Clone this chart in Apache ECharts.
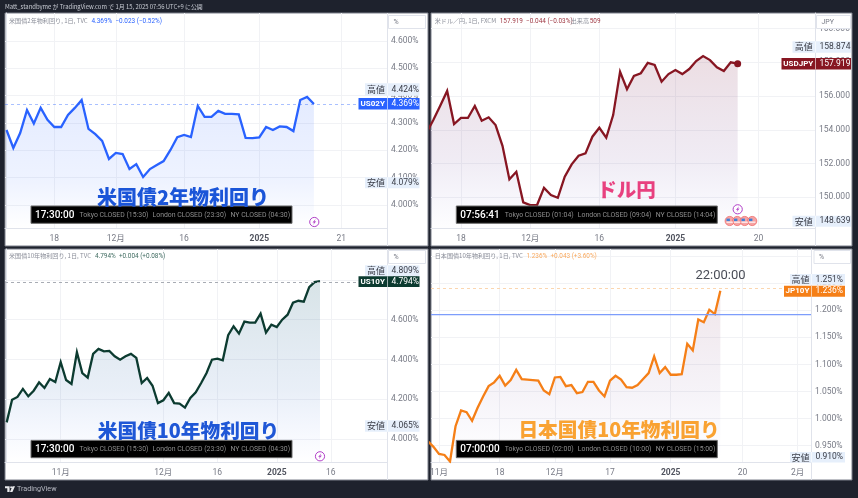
<!DOCTYPE html>
<html>
<head>
<meta charset="utf-8">
<style>html,body{margin:0;padding:0;background:#1e222d}#chart{width:858px;height:498px}</style>
<script src="https://cdn.jsdelivr.net/npm/echarts@6/dist/echarts.min.js"></script>
</head>
<body>
<div id="chart"></div>
<script>
// 米国債2年物
const us2yValues = [4.274,4.208,4.263,4.347,4.298,4.355,4.311,4.285,4.285,4.329,4.355,4.384,4.278,4.259,4.234,4.168,4.190,4.186,4.131,4.149,4.102,4.131,4.146,4.160,4.201,4.248,4.256,4.248,4.362,4.322,4.322,4.344,4.333,4.333,4.331,4.245,4.244,4.247,4.285,4.274,4.287,4.285,4.270,4.384,4.395,4.369];
const us2yPriceTicks = [4.0,4.1,4.2,4.3,4.4,4.5,4.6];
const us2yTimeTicks = [7,16,26,37,49];
const us2yTimeLabels = ['18','12月','16','2025','21'];

// 米ドル/円
const usdJpyValues = [153.81,154.58,155.42,156.30,154.34,154.70,154.70,155.41,154.54,154.74,154.28,153.05,151.06,151.51,149.70,149.54,149.54,150.56,150.13,149.97,151.22,151.95,152.46,152.60,153.59,154.12,153.53,154.87,157.44,156.40,157.19,157.35,157.97,157.84,156.85,157.30,157.54,157.30,157.60,158.07,158.37,158.13,157.70,157.48,158.00,157.919];
const usdJpyPriceTicks = [150,152,154,156,158,160];
const usdJpyTimeTicks = [5,15,25,36,48];
const usdJpyTimeLabels = ['18','12月','16','2025','20'];

// 米国債10年物
const us10yValues = [4.084,4.198,4.212,4.252,4.215,4.243,4.285,4.257,4.302,4.287,4.387,4.297,4.277,4.436,4.332,4.309,4.428,4.453,4.441,4.443,4.416,4.399,4.416,4.428,4.408,4.282,4.307,4.268,4.181,4.195,4.232,4.181,4.178,4.158,4.207,4.235,4.282,4.332,4.399,4.404,4.396,4.522,4.567,4.530,4.590,4.585,4.585,4.630,4.535,4.575,4.563,4.600,4.625,4.685,4.695,4.690,4.763,4.789,4.794];
const us10yPriceTicks = [4.0,4.2,4.4,4.6,4.8];
const us10yTimeTicks = [10,29,39,50,60];
const us10yTimeLabels = ['11月','12月','16','2025','16'];

// 日本国債10年物
const jp10yValues = [0.958,0.948,0.935,0.933,0.921,0.986,1.015,1.012,0.996,1.020,1.041,1.060,1.067,1.079,1.061,1.071,1.090,1.073,1.072,1.071,1.070,1.052,1.045,1.076,1.077,1.060,1.062,1.047,1.049,1.068,1.068,1.052,1.041,1.070,1.079,1.072,1.058,1.057,1.062,1.073,1.084,1.115,1.084,1.095,1.081,1.081,1.082,1.138,1.126,1.183,1.178,1.201,1.193,1.236];
const jp10yPriceTicks = [0.95,1.0,1.05,1.1,1.15,1.2,1.25,1.3];
const jp10yTimeTicks = [2,13,23,33,44,57,67];
const jp10yTimeLabels = ['11月','18','12月','17','2025','20','2月'];
const jp10yLevel = 1.192;

const FONT = 'Roboto, "Noto Sans CJK JP", sans-serif';
const CJK = '"Noto Sans CJK JP", Roboto, sans-serif';
const GRID = '#f1f2f5';
const AXIS = '#e0e3eb';

const panels = [
  { values: us2yValues, priceTicks: us2yPriceTicks, timeTicks: us2yTimeTicks, timeLabels: us2yTimeLabels,
    left: 5, right: 387, top: 13, bottom: 228, xMin: -0.22, xMax: 55.7, yMin: 3.915, yMax: 4.7026, digits: 3, unit: '%',
    color: '#2962ff',
    area: [[0, 'rgba(41,98,255,0.18)'], [0.65, 'rgba(41,98,255,0.11)'], [1, 'rgba(41,98,255,0)']],
    priceLine: { value: 4.369, color: 'rgba(41,98,255,0.4)' } },
  { values: usdJpyValues, priceTicks: usdJpyPriceTicks, timeTicks: usdJpyTimeTicks, timeLabels: usdJpyTimeLabels,
    left: 431, right: 815, top: 13, bottom: 228, xMin: 0.665, xMax: 56.18, yMin: 148.18, yMax: 160.92, digits: 3, unit: 'JPY',
    color: '#871622', dot: true,
    area: [[0, 'rgba(135,40,70,0.22)'], [0.6, 'rgba(90,40,130,0.13)'], [1, 'rgba(60,60,200,0.01)']] },
  { values: us10yValues, priceTicks: us10yPriceTicks, timeTicks: us10yTimeTicks, timeLabels: us10yTimeLabels,
    left: 5, right: 387, top: 249, bottom: 462, xMin: -0.31, xMax: 70.4, yMin: 3.885, yMax: 4.955, digits: 3, unit: '%',
    color: '#0c3b30',
    area: [[0, 'rgba(20,90,110,0.24)'], [0.6, 'rgba(40,100,180,0.15)'], [1, 'rgba(41,98,255,0)']],
    priceLine: { value: 4.794, color: '#a8acb4' } },
  { values: jp10yValues, priceTicks: jp10yPriceTicks, timeTicks: jp10yTimeTicks, timeLabels: jp10yTimeLabels,
    left: 431, right: 811, top: 249, bottom: 462, xMin: 0.553, xMax: 69.43, yMin: 0.92, yMax: 1.313, digits: 3, unit: '%',
    color: '#f57f17',
    area: [[0, 'rgba(135,40,70,0.17)'], [0.6, 'rgba(90,40,130,0.08)'], [1, 'rgba(60,60,200,0)']],
    priceLine: { value: 1.236, color: '#fbd6b0' }, level: jp10yLevel }
];

const grids = [], xAxes = [], yAxes = [], series = [];
panels.forEach((p, i) => {
  grids.push({ left: p.left, top: p.top, width: p.right - p.left, height: p.bottom - p.top, containLabel: false });
  xAxes.push({
    type: 'value', gridIndex: i, min: p.xMin, max: p.xMax,
    axisLine: { show: true, onZero: false, lineStyle: { color: AXIS } },
    axisTick: { show: false, customValues: p.timeTicks },
    splitLine: { show: true, lineStyle: { color: GRID } },
    axisLabel: {
      customValues: p.timeTicks, margin: 6.5, fontSize: 8.5, fontFamily: FONT, color: '#787b86',
      formatter: v => {
        const t = p.timeLabels[p.timeTicks.indexOf(v)];
        return t === '2025' ? '{b|2025}' : t;
      },
      rich: { b: { fontSize: 8.5, fontWeight: 'bold', fontFamily: FONT, color: '#50535e' } }
    }
  });
  yAxes.push({
    type: 'value', gridIndex: i, position: 'right', min: p.yMin, max: p.yMax,
    axisLine: { show: true, lineStyle: { color: AXIS } },
    axisTick: { show: false, customValues: p.priceTicks },
    splitLine: { show: true, lineStyle: { color: GRID } },
    axisLabel: {
      customValues: p.priceTicks, margin: 4, fontSize: 8.5, fontFamily: FONT, color: '#787b86',
      formatter: v => v.toFixed(p.digits) + (p.unit === '%' ? '%' : '')
    }
  });
  const last = p.values.length - 1;
  series.push({
    type: 'line', xAxisIndex: i, yAxisIndex: i, silent: true,
    data: p.values.map((v, k) => [k, v]),
    showSymbol: false, symbol: 'none',
    lineStyle: { color: p.color, width: 2.3, join: 'miter' },
    areaStyle: { origin: 'start', color: new echarts.graphic.LinearGradient(0, 0, 0, 1, p.area.map(a => ({ offset: a[0], color: a[1] }))) },
    markLine: p.priceLine ? { silent: true, symbol: ['none', 'none'], label: { show: false }, lineStyle: { type: [3, 3], width: 1, color: p.priceLine.color }, data: [{ yAxis: p.priceLine.value }], animation: false } : undefined,
    markPoint: p.dot ? { silent: true, symbol: 'circle', symbolSize: 7, itemStyle: { color: p.color }, label: { show: false }, data: [{ coord: [last, p.values[last]] }], animation: false } : undefined
  });
  if (p.level) {
    // 青い水平線
    series.push({
      type: 'line', xAxisIndex: i, yAxisIndex: i, silent: true, showSymbol: false, symbol: 'none',
      data: [[p.xMin, p.level], [p.xMax, p.level]],
      lineStyle: { color: '#7d9dfb', width: 1.2 }, itemStyle: { color: '#7d9dfb' }
    });
  }
});

// パネルの白地や枠
function panelBack(x, y, w, h, axisX, axisY) {
  return [
    { type: 'rect', z: -10, shape: { x: x, y: y, width: w, height: h }, style: { fill: '#fff', stroke: '#7b7f8a', lineWidth: 1 } },
    { type: 'line', z: -5, shape: { x1: axisX + 0.5, y1: axisY, x2: axisX + 0.5, y2: y + h }, style: { stroke: AXIS, lineWidth: 1 } }
  ];
}
function txt(x, y, text, fill, font, align) {
  return { type: 'text', z: 120, style: { x: x, y: y, text: text, fill: fill, font: font, textAlign: align || 'left', textVerticalAlign: 'middle' } };
}
function box(x, y, w, h, fill, stroke) {
  return { type: 'rect', z: 110, shape: { x: x, y: y, width: w, height: h }, style: { fill: fill, stroke: stroke || null, lineWidth: stroke ? 1 : 0 } };
}
function unitBox(x, y, w, text) {
  return [box(x, y, w, 13, '#fff', '#e0e3eb'), txt(x + 5, y + 7, text, '#787b86', '7px ' + FONT)];
}
function priceTag(left, divider, right, top, h, name, price, bg, fg, nameFont) {
  return [
    box(left, top, right - left, h, bg),
    { type: 'line', z: 115, shape: { x1: divider + 0.5, y1: top, x2: divider + 0.5, y2: top + h }, style: { stroke: 'rgba(255,255,255,0.6)', lineWidth: 1 } },
    txt((left + divider) / 2, top + h / 2, name, fg, nameFont, 'center'),
    txt(divider + 4.5, top + h / 2, price, fg, '8.5px ' + FONT)
  ];
}
function clockBar(x, y, clock, tokyo, london, ny) {
  return [
    box(x, y, 261, 17.3, '#000', '#6a6a6a'),
    txt(x + 4, y + 9, clock, '#fff', '500 10px ' + FONT),
    txt(x + 48.5, y + 9, tokyo, '#8d8d8d', '6.9px ' + FONT),
    txt(x + 121.5, y + 9, london, '#8d8d8d', '6.9px ' + FONT),
    txt(x + 199.5, y + 9, ny, '#8d8d8d', '6.9px ' + FONT)
  ];
}
function boltIcon(cx, cy) {
  return [
    { type: 'circle', z: 110, shape: { cx: cx, cy: cy, r: 4.6 }, style: { fill: '#fff', stroke: '#b140c8', lineWidth: 1 } },
    { type: 'polygon', z: 111, shape: { points: [[cx + 1.3, cy - 3], [cx - 1.8, cy + 0.6], [cx - 0.1, cy + 0.4], [cx - 1.2, cy + 3], [cx + 1.9, cy - 0.8], [cx + 0.2, cy - 0.6]] }, style: { fill: '#b140c8' } }
  ];
}
function flagIcon(cx, cy) {
  return [
    { type: 'circle', z: 110, shape: { cx: cx, cy: cy, r: 4.6 }, style: { fill: '#f6a3a3', stroke: '#ef6c6c', lineWidth: 0.8 } },
    { type: 'rect', z: 111, shape: { x: cx - 3.2, y: cy - 2.4, width: 3.4, height: 2.6 }, style: { fill: '#3f7fd6' } },
    { type: 'rect', z: 111, shape: { x: cx - 3.2, y: cy + 0.6, width: 6.4, height: 1.1 }, style: { fill: '#fff' } }
  ];
}

const TAG_BG = '#e6effb';
const NAME_FONT = '9px ' + CJK;
const SYM_FONT = 'bold 8px ' + FONT;
const LEGEND_CJK = '6.1px ' + CJK;
const LEGEND_NUM = '6.4px ' + FONT;
const graphics = [].concat(
  panelBack(5, 13, 423, 233, 387, 13),
  panelBack(431, 13, 421, 233, 815, 13),
  panelBack(5, 249, 423, 231, 387, 249),
  panelBack(431, 249, 421, 231, 811, 249),

  // ヘッダーとフッター
  [txt(5, 7, 'Matt_standbyme が TradingView.com で 1月 15, 2025 07:56 UTC+9 に公開', '#c8cbd3', '5.9px ' + CJK)],
  [txt(17, 489.5, 'TradingView', '#b8bbc4', '7.2px ' + FONT)],
  [
    { type: 'polygon', z: 110, shape: { points: [[5, 486.3], [9.6, 486.3], [9.6, 492], [7.3, 492], [7.3, 488.2], [5, 488.2]] }, style: { fill: '#e8e9ec' } },
    { type: 'circle', z: 110, shape: { cx: 11.1, cy: 487.3, r: 1 }, style: { fill: '#e8e9ec' } },
    { type: 'polygon', z: 110, shape: { points: [[12.5, 486.3], [15, 486.3], [12.4, 492], [9.9, 492]] }, style: { fill: '#e8e9ec' } }
  ],

  // 凡例
  [txt(9, 21, '米国債2年物利回り, 1日, TVC', '#8a8d98', LEGEND_CJK), txt(91.5, 21, '4.369%  −0.023 (−0.52%)', '#2962ff', LEGEND_NUM)],
  [txt(434.7, 21, '米ドル／円, 1日, FXCM', '#8a8d98', LEGEND_CJK), txt(499.7, 21, '157.919  −0.044 (−0.03%)', '#a03a45', LEGEND_NUM), txt(570.7, 21, '出来高', '#8a8d98', LEGEND_CJK), txt(589.7, 21, '509', '#a03a45', LEGEND_NUM)],
  [txt(9, 256, '米国債10年物利回り, 1日, TVC', '#8a8d98', LEGEND_CJK), txt(95, 256, '4.794%  +0.004 (+0.08%)', '#3f6b60', LEGEND_NUM)],
  [txt(434.7, 256, '日本国債10年物利回り, 1日, TVC', '#8a8d98', LEGEND_CJK), txt(526.5, 256, '1.236%  +0.043 (+3.60%)', '#f9a95e', LEGEND_NUM)],

  unitBox(388.5, 15.5, 37, '%'),
  unitBox(816.5, 15.5, 34, 'JPY'),
  unitBox(388.5, 250.5, 37, '%'),
  unitBox(814, 250.5, 36.5, '%'),

  // 価格ラベル
  priceTag(365, 387, 419.5, 83.3, 12.4, '高値', '4.424%', TAG_BG, '#3a3d47', NAME_FONT),
  priceTag(358.5, 387, 419.5, 98, 11.5, 'US02Y', '4.369%', '#2962ff', '#fff', SYM_FONT),
  priceTag(365, 387, 419.5, 177.3, 11, '安値', '4.079%', TAG_BG, '#3a3d47', NAME_FONT),
  priceTag(792.5, 815, 851, 41.3, 11.4, '高値', '158.874', TAG_BG, '#3a3d47', NAME_FONT),
  priceTag(781.5, 815, 851, 58, 11.4, 'USDJPY', '157.919', '#871622', '#fff', SYM_FONT),
  priceTag(792.5, 815, 851, 215.7, 11, '安値', '148.639', TAG_BG, '#3a3d47', NAME_FONT),
  priceTag(365, 387, 419.5, 265.3, 10.6, '高値', '4.809%', TAG_BG, '#3a3d47', NAME_FONT),
  priceTag(358.5, 387, 419.5, 276.3, 10.8, 'US10Y', '4.794%', '#0c3b30', '#fff', SYM_FONT),
  priceTag(365, 387, 419.5, 420.3, 11.4, '安値', '4.065%', TAG_BG, '#3a3d47', NAME_FONT),
  priceTag(790, 811, 845, 274, 10.8, '高値', '1.251%', TAG_BG, '#3a3d47', NAME_FONT),
  priceTag(784, 811, 845, 285.7, 11, 'JP10Y', '1.236%', '#f57f17', '#fff', SYM_FONT),
  priceTag(790, 811, 845, 452, 10.4, '安値', '0.910%', TAG_BG, '#3a3d47', NAME_FONT),

  // 時計バー
  clockBar(31, 206, '17:30:00', 'Tokyo CLOSED (15:30)', 'London CLOSED (23:30)', 'NY CLOSED (04:30)'),
  clockBar(456.3, 206, '07:56:41', 'Tokyo CLOSED (01:04)', 'London CLOSED (09:04)', 'NY CLOSED (14:04)'),
  clockBar(31, 440.4, '17:30:00', 'Tokyo CLOSED (15:30)', 'London CLOSED (23:30)', 'NY CLOSED (04:30)'),
  clockBar(456.3, 440.4, '07:00:00', 'Tokyo CLOSED (02:00)', 'London CLOSED (10:00)', 'NY CLOSED (15:00)'),

  // 大きな見出し
  [txt(183, 197, '米国債2年物利回り', '#1b55d8', '900 20px ' + CJK, 'center')],
  [txt(626.5, 190, 'ドル円', '#e8417f', '900 19.5px ' + CJK, 'center')],
  [txt(188.5, 431, '米国債10年物利回り', '#1f57d6', '900 19.7px ' + CJK, 'center')],
  [txt(619, 430, '日本国債10年物利回り', '#f9a232', '900 19.7px ' + CJK, 'center')],
  [txt(720.5, 276, '22:00:00', '#4a4d57', '13px ' + FONT, 'center')],

  boltIcon(314.3, 222),
  boltIcon(320, 456.3),
  boltIcon(737.7, 209.3),
  flagIcon(729.7, 221), flagIcon(737.2, 221), flagIcon(744.7, 221), flagIcon(752.2, 221)
);

const chart = echarts.init(document.getElementById('chart'), null, { renderer: 'canvas' });
chart.setOption({
  animation: false,
  backgroundColor: '#1e222d',
  tooltip: { show: false },
  grid: grids,
  xAxis: xAxes,
  yAxis: yAxes,
  series: series,
  graphic: { elements: graphics }
});
</script>
</body>
</html>
